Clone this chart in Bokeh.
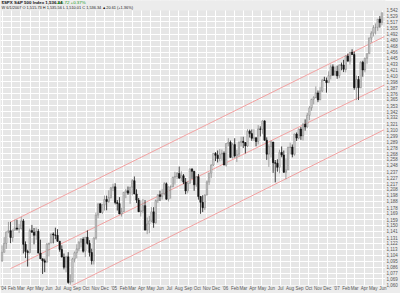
import pandas as pd
from bokeh.plotting import figure
from bokeh.models import (Range1d, FixedTicker, NumeralTickFormatter, Label, ColumnDataSource,
                          BoxAnnotation)
from bokeh.embed import file_html
from bokeh.resources import INLINE

# ---------------- data (weekly candles) ----------------
week_end = pd.date_range("2004-01-02", "2007-06-01", freq="W-FRI")

ohlc_2004 = [
    (1095.9, 1118.9, 1094.0, 1108.5), (1108.5, 1131.9, 1108.5, 1121.9), (1121.9, 1139.8, 1113.6, 1139.8),
    (1139.8, 1155.4, 1137.6, 1141.6), (1141.6, 1155.4, 1122.4, 1131.1), (1131.1, 1142.8, 1124.5, 1142.8),
    (1142.8, 1158.9, 1141.4, 1145.8), (1145.8, 1158.9, 1141.9, 1144.1), (1144.1, 1151.7, 1138.0, 1144.9),
    (1144.9, 1163.2, 1143.5, 1156.9), (1156.9, 1159.9, 1106.8, 1120.6), (1120.6, 1125.1, 1099.8, 1109.8),
    (1109.8, 1112.5, 1087.2, 1108.1), (1108.1, 1144.8, 1106.8, 1141.8), (1141.8, 1150.6, 1138.3, 1139.3),
    (1139.3, 1145.8, 1120.6, 1134.6), (1134.6, 1146.5, 1127.6, 1140.6), (1140.6, 1144.1, 1107.2, 1107.3),
    (1107.3, 1127.7, 1098.6, 1098.7), (1098.7, 1098.7, 1076.3, 1095.7), (1095.7, 1099.0, 1079.0, 1093.6),
    (1093.6, 1122.6, 1093.6, 1120.7), (1120.7, 1122.7, 1102.3, 1122.5), (1122.5, 1137.0, 1122.5, 1136.5),
    (1136.5, 1139.0, 1122.0, 1135.0), (1135.0, 1146.3, 1128.5, 1134.4), (1134.4, 1144.0, 1124.4, 1125.4),
    (1125.4, 1125.4, 1109.4, 1112.8), (1112.8, 1119.0, 1100.9, 1101.4), (1101.4, 1106.7, 1083.0, 1086.2),
    (1086.2, 1103.5, 1078.8, 1101.7), (1101.7, 1108.7, 1062.0, 1064.0), (1064.0, 1075.8, 1060.7, 1064.8),
    (1064.8, 1100.3, 1064.8, 1098.4), (1098.4, 1109.7, 1093.4, 1107.8), (1107.8, 1120.8, 1099.3, 1113.6),
    (1113.6, 1125.3, 1110.0, 1123.9), (1123.9, 1130.1, 1116.0, 1128.6), (1128.6, 1131.5, 1108.0, 1110.1),
    (1110.1, 1131.6, 1101.3, 1131.5), (1131.5, 1142.1, 1120.2, 1122.1), (1122.1, 1127.0, 1102.1, 1108.2),
    (1108.2, 1114.0, 1090.2, 1095.7), (1095.7, 1131.4, 1090.3, 1130.2), (1130.2, 1170.3, 1127.6, 1166.2),
    (1166.2, 1184.2, 1161.3, 1184.2), (1184.2, 1184.5, 1169.2, 1170.3), (1170.3, 1183.0, 1167.9, 1182.7),
    (1182.7, 1197.5, 1173.3, 1191.2), (1191.2, 1197.5, 1173.8, 1188.0), (1188.0, 1206.2, 1185.7, 1194.2),
    (1194.2, 1211.5, 1192.9, 1210.1), (1210.1, 1217.3, 1204.9, 1211.9),
]
ohlc_2005 = [
    (1211.9, 1217.8, 1183.3, 1186.2), (1186.2, 1190.2, 1173.4, 1184.5), (1184.5, 1195.0, 1167.8, 1167.9),
    (1167.9, 1178.0, 1163.8, 1171.4), (1171.4, 1203.5, 1171.4, 1203.0), (1203.0, 1208.4, 1193.3, 1205.3),
    (1205.3, 1212.4, 1198.7, 1201.6), (1201.6, 1211.4, 1184.2, 1211.4), (1211.4, 1224.8, 1198.1, 1222.1),
    (1222.1, 1229.1, 1200.1, 1200.1), (1200.1, 1207.8, 1185.6, 1190.2), (1190.2, 1193.6, 1171.3, 1171.4),
    (1171.4, 1189.8, 1163.8, 1172.9), (1172.9, 1191.9, 1168.7, 1181.2), (1181.2, 1190.1, 1141.9, 1142.6),
    (1142.6, 1162.3, 1136.2, 1152.1), (1152.1, 1164.8, 1137.8, 1156.9), (1156.9, 1178.9, 1154.9, 1171.4),
    (1171.4, 1178.8, 1146.2, 1154.1), (1154.1, 1191.1, 1152.6, 1189.3), (1189.3, 1199.6, 1185.6, 1198.8),
    (1198.8, 1205.6, 1188.8, 1196.0), (1196.0, 1208.4, 1191.1, 1200.9), (1200.9, 1219.6, 1197.6, 1217.0),
    (1217.0, 1219.1, 1191.1, 1191.6), (1191.6, 1211.9, 1188.0, 1211.9), (1211.9, 1214.2, 1192.6, 1211.9),
    (1211.9, 1228.4, 1211.9, 1227.9), (1227.9, 1237.1, 1215.7, 1229.0), (1229.0, 1236.6, 1225.0, 1234.2),
    (1234.2, 1245.9, 1224.9, 1226.4), (1226.4, 1237.8, 1221.3, 1230.4), (1230.4, 1233.2, 1216.4, 1219.7),
    (1219.7, 1226.6, 1199.8, 1205.1), (1205.1, 1221.0, 1201.1, 1218.0), (1218.0, 1243.1, 1217.0, 1241.5),
    (1241.5, 1243.1, 1225.2, 1237.9), (1237.9, 1237.9, 1205.4, 1215.3), (1215.3, 1229.9, 1211.9, 1228.8),
    (1228.8, 1233.3, 1190.9, 1195.9), (1195.9, 1197.0, 1168.2, 1186.6), (1186.6, 1198.1, 1170.9, 1177.8),
    (1177.8, 1199.5, 1174.1, 1198.4), (1198.4, 1222.6, 1198.4, 1220.1), (1220.1, 1235.3, 1215.1, 1234.7),
    (1234.7, 1249.6, 1226.6, 1248.3), (1248.3, 1268.3, 1246.8, 1268.3), (1268.3, 1270.6, 1255.1, 1265.1),
    (1265.1, 1273.4, 1252.8, 1259.4), (1259.4, 1275.8, 1254.7, 1267.3), (1267.3, 1275.0, 1256.1, 1268.7),
    (1268.7, 1271.8, 1248.3, 1248.3),
]
ohlc_2006 = [
    (1248.3, 1286.1, 1245.7, 1285.5), (1285.5, 1294.9, 1280.8, 1287.6), (1287.6, 1290.8, 1261.0, 1261.5),
    (1261.5, 1286.4, 1259.4, 1283.7), (1283.7, 1294.8, 1261.0, 1264.0), (1264.0, 1274.6, 1253.6, 1267.0),
    (1267.0, 1289.4, 1262.8, 1287.2), (1287.2, 1297.6, 1280.6, 1289.4), (1289.4, 1297.6, 1277.6, 1287.2),
    (1287.2, 1288.2, 1268.4, 1281.4), (1281.4, 1310.9, 1279.2, 1307.3), (1307.3, 1310.2, 1296.1, 1303.0),
    (1303.0, 1310.4, 1290.3, 1294.8), (1294.8, 1311.0, 1289.7, 1295.5), (1295.5, 1296.5, 1280.7, 1289.1),
    (1289.1, 1318.2, 1284.0, 1311.3), (1311.3, 1316.0, 1298.0, 1310.6), (1310.6, 1326.7, 1302.8, 1325.8),
    (1325.8, 1326.7, 1290.8, 1291.2), (1291.2, 1296.4, 1257.2, 1267.0), (1267.0, 1284.1, 1245.3, 1280.2),
    (1280.2, 1290.7, 1261.3, 1288.2), (1288.2, 1288.2, 1235.2, 1252.3), (1252.3, 1257.0, 1219.3, 1251.5),
    (1251.5, 1258.3, 1237.1, 1244.5), (1244.5, 1274.8, 1234.4, 1270.2), (1270.2, 1280.4, 1261.7, 1265.5),
    (1265.5, 1273.3, 1235.0, 1236.2), (1236.2, 1259.6, 1224.5, 1240.3), (1240.3, 1280.1, 1240.3, 1278.6),
    (1278.6, 1287.2, 1266.7, 1279.4), (1279.4, 1283.9, 1261.6, 1266.7), (1266.7, 1303.0, 1264.4, 1302.3),
    (1302.3, 1305.0, 1290.1, 1295.1), (1295.1, 1312.0, 1293.0, 1311.0), (1311.0, 1314.7, 1292.0, 1298.9),
    (1298.9, 1322.0, 1290.9, 1319.7), (1319.7, 1328.5, 1308.3, 1314.8), (1314.8, 1340.3, 1313.5, 1335.8),
    (1335.8, 1353.1, 1327.1, 1349.6), (1349.6, 1366.0, 1344.2, 1365.6), (1365.6, 1371.2, 1356.0, 1368.6),
    (1368.6, 1389.4, 1367.7, 1377.3), (1377.3, 1381.9, 1360.0, 1364.3), (1364.3, 1388.6, 1364.3, 1380.9),
    (1380.9, 1403.8, 1378.7, 1401.2), (1401.2, 1407.9, 1400.5, 1401.0), (1401.0, 1406.4, 1377.8, 1396.7),
    (1396.7, 1418.3, 1396.7, 1409.8), (1409.8, 1431.6, 1403.0, 1427.1), (1427.1, 1431.8, 1410.3, 1410.8),
    (1410.8, 1427.7, 1410.8, 1418.3),
]
ohlc_2007 = [
    (1418.3, 1429.4, 1403.9, 1409.7), (1409.7, 1431.2, 1405.3, 1430.7), (1430.7, 1435.3, 1420.4, 1430.5),
    (1430.5, 1440.7, 1416.9, 1422.2), (1422.2, 1449.3, 1416.2, 1448.4), (1448.4, 1453.0, 1438.1, 1438.1),
    (1438.1, 1456.2, 1431.6, 1455.5), (1455.5, 1461.6, 1450.3, 1451.2), (1451.2, 1456.9, 1383.2, 1387.2),
    (1387.2, 1410.4, 1364.0, 1402.8), (1402.8, 1409.3, 1364.0, 1387.0), (1387.0, 1437.8, 1387.0, 1436.1),
    (1436.1, 1438.9, 1408.0, 1420.9), (1420.9, 1444.9, 1416.4, 1443.8), (1443.8, 1453.1, 1433.1, 1452.9),
    (1452.9, 1484.6, 1452.9, 1484.4), (1484.4, 1498.0, 1475.1, 1494.1), (1494.1, 1510.3, 1487.3, 1505.6),
    (1505.6, 1513.8, 1491.4, 1505.9), (1505.9, 1522.8, 1498.7, 1522.8), (1522.8, 1529.3, 1505.2, 1515.7),
    (1515.7, 1535.6, 1510.0, 1536.3),
]

# trend channel (date, price) end points
channel_dates = ["2004-01-27", "2007-06-06"]
upper_channel = [1155, 1487]
middle_channel = [1084, 1392]
lower_dates = ["2004-08-10", "2007-06-06"]
lower_channel = [1058, 1310]

# price-axis tick labels (log scale, evenly spaced)
y_tick_values = [1060, 1069, 1077, 1086, 1095, 1104, 1113, 1122, 1131, 1141, 1150, 1159, 1169,
                 1178, 1188, 1198, 1208, 1217, 1227, 1237, 1248, 1258, 1268, 1278, 1289, 1299,
                 1310, 1321, 1332, 1342, 1353, 1365, 1376, 1387, 1398, 1410, 1421, 1433, 1445,
                 1456, 1468, 1480, 1492, 1505, 1517, 1529, 1542]

month_starts = pd.date_range("2004-01-01", "2007-06-01", freq="MS")
month_names = ["Jan", "Feb", "Mar", "Apr", "May", "Jun", "Jul", "Aug", "Sep", "Oct", "Nov", "Dec"]

title_main = "$SPX S&P 500 Index  1,536.34"
title_change = "\u25b25.72 +0.37%"
title_sub = "W 6/1/2007 O 1,515.73 H 1,535.56 L 1,510.01 C 1,536.34 \u25b220.61 (+1.36%)"

# ---------------- build ----------------
rows = ohlc_2004 + ohlc_2005 + ohlc_2006 + ohlc_2007
assert len(rows) == len(week_end), (len(rows), len(week_end))
origin = pd.Timestamp("2004-01-01")

def day(d):
    return (pd.Timestamp(d) - origin).days

xs = [day(d) - 2.5 for d in week_end]   # centre of the trading week
o = [r[0] for r in rows]
h = [r[1] for r in rows]
l = [r[2] for r in rows]
c = [r[3] for r in rows]
up = [ci >= oi for oi, ci in zip(o, c)]

def pick(seq, want):
    return [v for v, u in zip(seq, up) if u == want]

src_up = ColumnDataSource(dict(x=pick(xs, True), o=pick(o, True), h=pick(h, True),
                               l=pick(l, True), c=pick(c, True)))
src_dn = ColumnDataSource(dict(x=pick(xs, False), o=pick(o, False), h=pick(h, False),
                               l=pick(l, False), c=pick(c, False)))

# frame covers the header strip too; the strip above the price area is masked
price_top = 1541
p = figure(width=400, height=293, y_axis_type="log", y_axis_location="right",
           x_range=Range1d(-6.5, 1256), y_range=Range1d(1059.5, 1562),
           output_backend="svg", toolbar_location=None, title=None,
           min_border_left=0, min_border_right=0, min_border_top=0, min_border_bottom=6)

p.background_fill_color = "#e6e6e6"
p.border_fill_color = "#ececec"
p.outline_line_color = None

# grid
month_ticks = [day(m) for m in month_starts]
month_labels = {}
for m in month_starts:
    month_labels[day(m)] = ("'" + str(m.year)[2:]) if m.month == 1 else month_names[m.month - 1]

p.xaxis.ticker = FixedTicker(ticks=month_ticks)
p.xaxis.major_label_overrides = month_labels
p.xgrid.ticker = FixedTicker(ticks=month_ticks)
p.yaxis.ticker = FixedTicker(ticks=y_tick_values)
p.ygrid.ticker = FixedTicker(ticks=y_tick_values)
p.yaxis.formatter = NumeralTickFormatter(format="0,0")
for g in (p.xgrid, p.ygrid):
    g.grid_line_color = "white"
    g.grid_line_width = 1
    g.grid_line_alpha = 1

for ax in (p.xaxis, p.yaxis):
    ax.axis_line_color = None
    ax.major_tick_line_color = None
    ax.minor_tick_line_color = None
    ax.major_tick_out = 0
    ax.major_tick_in = 0
    ax.major_label_text_font = "Liberation Sans"
    ax.major_label_text_font_size = "4.5px"
    ax.major_label_text_color = "#555555"
p.yaxis.major_label_standoff = 1
p.xaxis.major_label_standoff = 0
p.xaxis.major_label_text_align = "left"

# channel
p.line([day(d) for d in channel_dates], upper_channel, line_color="#f39a9a", line_width=0.9)
p.line([day(d) for d in channel_dates], middle_channel, line_color="#f39a9a", line_width=0.9)
p.line([day(d) for d in lower_dates], lower_channel, line_color="#f39a9a", line_width=0.9)

# candles
p.segment("x", "h", "x", "l", source=src_up, line_color="#8a8a8a", line_width=0.8)
p.segment("x", "h", "x", "l", source=src_dn, line_color="#111111", line_width=0.8)
p.vbar(x="x", top="c", bottom="o", width=4.6, source=src_up,
       fill_color="#dadada", line_color="#8a8a8a", line_width=0.6)
p.vbar(x="x", top="o", bottom="c", width=4.6, source=src_dn,
       fill_color="#111111", line_color="#111111", line_width=0.6)

# header strip
p.add_layout(BoxAnnotation(bottom=price_top, fill_color="#ececec", fill_alpha=1,
                           line_color=None))

# header texts (screen units, relative to the frame's bottom-left)
p.add_layout(Label(x=1, y=286, x_units="screen", y_units="screen", text=title_main,
                   text_font="Liberation Sans", text_font_size="4.4px", text_font_style="bold",
                   text_color="#111111", text_baseline="top"))
p.add_layout(Label(x=56, y=286, x_units="screen", y_units="screen", text=title_change,
                   text_font="Liberation Sans", text_font_size="4.4px",
                   text_color="#1a9a1a", text_baseline="top"))
p.add_layout(Label(x=1, y=281, x_units="screen", y_units="screen", text=title_sub,
                   text_font="Liberation Sans", text_font_size="3.9px",
                   text_color="#222222", text_baseline="top"))

open("out.html", "w").write(file_html(p, INLINE))
